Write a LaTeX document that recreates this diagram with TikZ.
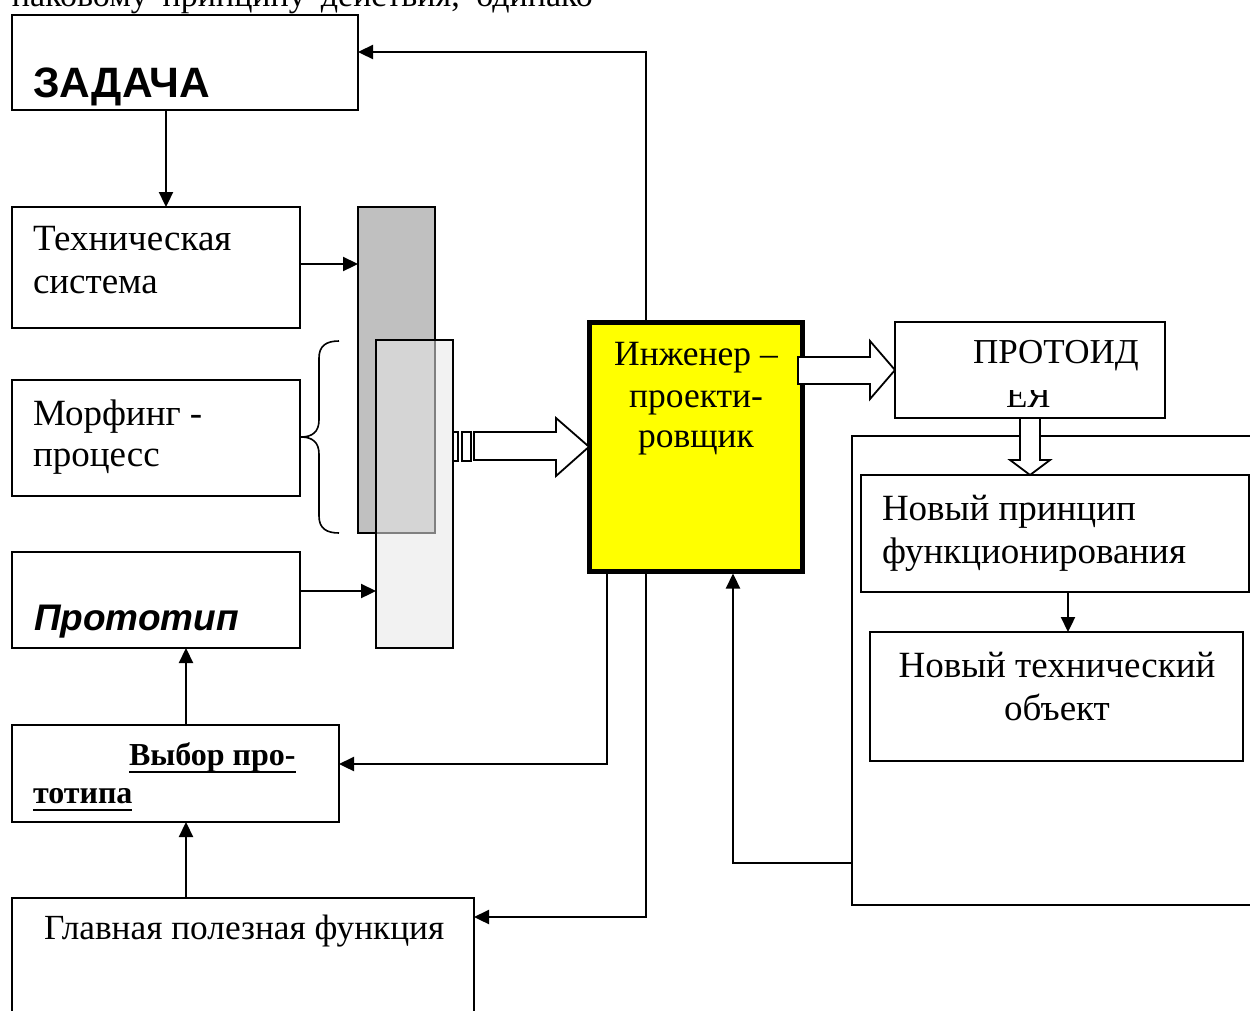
\documentclass[tikz,border=0pt]{standalone}
\usepackage{fontspec}
\setmainfont{Liberation Serif}
\newfontfamily\arialf{Liberation Sans}
\usetikzlibrary{arrows.meta}
\definecolor{darkg}{HTML}{C0C0C0}
\definecolor{lightg}{gray}{0.907}
\definecolor{yel}{HTML}{FFFF00}
\newcommand\myul[1]{\setbox0\hbox{#1}\rlap{\rule[-8pt]{\wd0}{2.5pt}}\box0}
\begin{document}
\begin{tikzpicture}[x=1pt,y=-1pt,
  box/.style={draw, line width=2.2pt, rectangle, inner sep=0pt, outer sep=0pt, fill=white},
  arr/.style={line width=2.3pt, -{Triangle[length=15pt,width=14pt]}},
  txt/.style={inner sep=0pt, outer sep=0pt, font=\fontsize{37}{42}\selectfont},
  hollow/.style={draw, line width=1.8pt, fill=white, line join=miter}
]
\useasboundingbox (0,0) rectangle (1250,1010);
\clip (0,0) rectangle (1250,1010);

% top cropped text line
\node[txt, anchor=base west, font=\fontsize{34}{40}\selectfont] (top) at (12,6) {\makebox[581pt][s]{наковому принципу действия, одинако}};

% left column boxes
\node[box, minimum width=346pt, minimum height=95pt] (zad) at (185,62.5) {};
\node[txt, anchor=base west, font=\arialf\bfseries\fontsize{42.5}{48}\selectfont] (zadt) at (33,97) {ЗАДАЧА};

\node[box, minimum width=288pt, minimum height=121pt] (tech) at (156,267.5) {};
\node[txt, anchor=base west] (techt1) at (33,250) {Техническая};
\node[txt, anchor=base west] (techt2) at (33,293) {система};

\node[box, minimum width=288pt, minimum height=116pt] (morf) at (156,438) {};
\node[txt, anchor=base west] (morft1) at (33,425) {Морфинг -};
\node[txt, anchor=base west] (morft2) at (33,466) {процесс};

\node[box, minimum width=288pt, minimum height=96pt] (prot) at (156,600) {};
\node[txt, anchor=base west, font=\arialf\bfseries\itshape\fontsize{37}{42}\selectfont] (prott) at (34,630) {Прототип};

\node[box, minimum width=327pt, minimum height=97pt] (vyb) at (175.5,773.5) {};
\node[txt, anchor=base west, font=\bfseries\fontsize{32}{38}\selectfont] (vybt1) at (129,765) {\myul{Выбор про-}};
\node[txt, anchor=base west, font=\bfseries\fontsize{32}{38}\selectfont] (vybt2) at (33,803) {\myul{тотипа}};

\node[box, minimum width=462pt, minimum height=132pt] (glav) at (243,964) {};
\node[txt, anchor=base west, font=\fontsize{35.3}{41}\selectfont] (glavt) at (44,939) {Главная полезная функция};

% gray columns
\node[box, fill=darkg, minimum width=77pt, minimum height=326pt] (dark) at (396.5,370) {};
\node[box, fill=lightg, fill opacity=0.556, minimum width=77pt, minimum height=308pt] (light) at (414.5,494) {};

% brace
\draw[line width=1.6pt] (339,341) .. controls (326,341) and (319,346) .. (319,358) -- (319,420)
  .. controls (319,432) and (312,437) .. (301,437)
  .. controls (312,437) and (319,442) .. (319,454) -- (319,516)
  .. controls (319,528) and (326,533) .. (339,533);

% engineer
\node[draw, line width=5pt, fill=yel, inner sep=0pt, outer sep=0pt, minimum width=213.5pt, minimum height=248.5pt] (eng) at (695.75,446.75) {};
\node[txt, anchor=base, font=\fontsize{35.5}{41}\selectfont] (engt1) at (696,365) {Инженер –};
\node[txt, anchor=base, font=\fontsize{35.5}{41}\selectfont] (engt2) at (696,407) {проекти-};
\node[txt, anchor=base, font=\fontsize{35.5}{41}\selectfont] (engt3) at (696,447) {ровщик};

% right side
\node[box, minimum width=428pt, minimum height=469pt] (outer) at (1066,670.5) {};
\node[box, minimum width=270pt, minimum height=96pt] (protoid) at (1030,370) {};
\node[txt, anchor=base west, font=\fontsize{35}{41}\selectfont] (protoidt) at (973,363) {ПРОТОИД};
\begin{scope}
  \clip (900,390) rectangle (1160,416);
  \node[txt, anchor=base west, font=\fontsize{35}{41}\selectfont] (protoidt2) at (1006,407) {ЕЯ};
\end{scope}
\node[box, minimum width=388pt, minimum height=117pt] (nprin) at (1055,533.5) {};
\node[txt, anchor=base west] (nprint1) at (882,520) {Новый принцип};
\node[txt, anchor=base west] (nprint2) at (882,563) {функционирования};
\node[box, minimum width=373pt, minimum height=129pt] (ntech) at (1056.5,696.5) {};
\node[txt, anchor=base] (ntecht1) at (1057,677) {Новый технический};
\node[txt, anchor=base] (ntecht2) at (1057,720) {объект};

% hollow block arrows
\draw[hollow] (453.3,432) rectangle (457.7,461);
\draw[hollow] (461.7,432) rectangle (470.7,461);
\draw[hollow] (eng.west) -- ++(-33,-28.75) -- ++(0,14) -- ++(-82,0) -- ++(0,28) -- ++(82,0) -- ++(0,16) -- cycle;
\draw[hollow] (protoid.west) -- ++(-25,-29) -- ++(0,16) -- ++(-72,0) -- ++(0,27) -- ++(72,0) -- ++(0,15) -- cycle;
\draw[hollow] (protoid.south |- nprin.north) -- ++(-20,-15) -- ++(10,0) -- ++(0,-42) -- ++(20,0) -- ++(0,42) -- ++(10,0) -- cycle;

% connectors
\draw[arr] ([xshift=-19pt]zad.south) -- ([xshift=-19pt]zad.south |- tech.north);
\draw[arr] ([yshift=3.5pt]tech.east) -- ([yshift=3.5pt]tech.east -| dark.west);
\draw[arr] ([yshift=9pt]prot.east) -- ([yshift=9pt]prot.east -| light.west);
\draw[arr] ([xshift=10.5pt]vyb.north) -- ([xshift=10.5pt]vyb.north |- prot.south);
\draw[arr] ([xshift=-57pt]glav.north) -- ([xshift=-57pt]glav.north |- vyb.south);
\draw[arr] ([xshift=-49.75pt]eng.north) |- ([yshift=10.5pt]zad.east);
\draw[arr] ([xshift=-88.75pt]eng.south) |- ([yshift=9.5pt]vyb.east);
\draw[arr] ([xshift=-49.75pt]eng.south) |- ([yshift=47pt]glav.east);
\draw[arr, shorten >=2.5pt] ([yshift=-192.5pt]outer.west) -| ([xshift=37.25pt]eng.south);
\draw[arr] ([xshift=13pt]nprin.south) -- ([xshift=13pt]nprin.south |- ntech.north);
\end{tikzpicture}
\end{document}
